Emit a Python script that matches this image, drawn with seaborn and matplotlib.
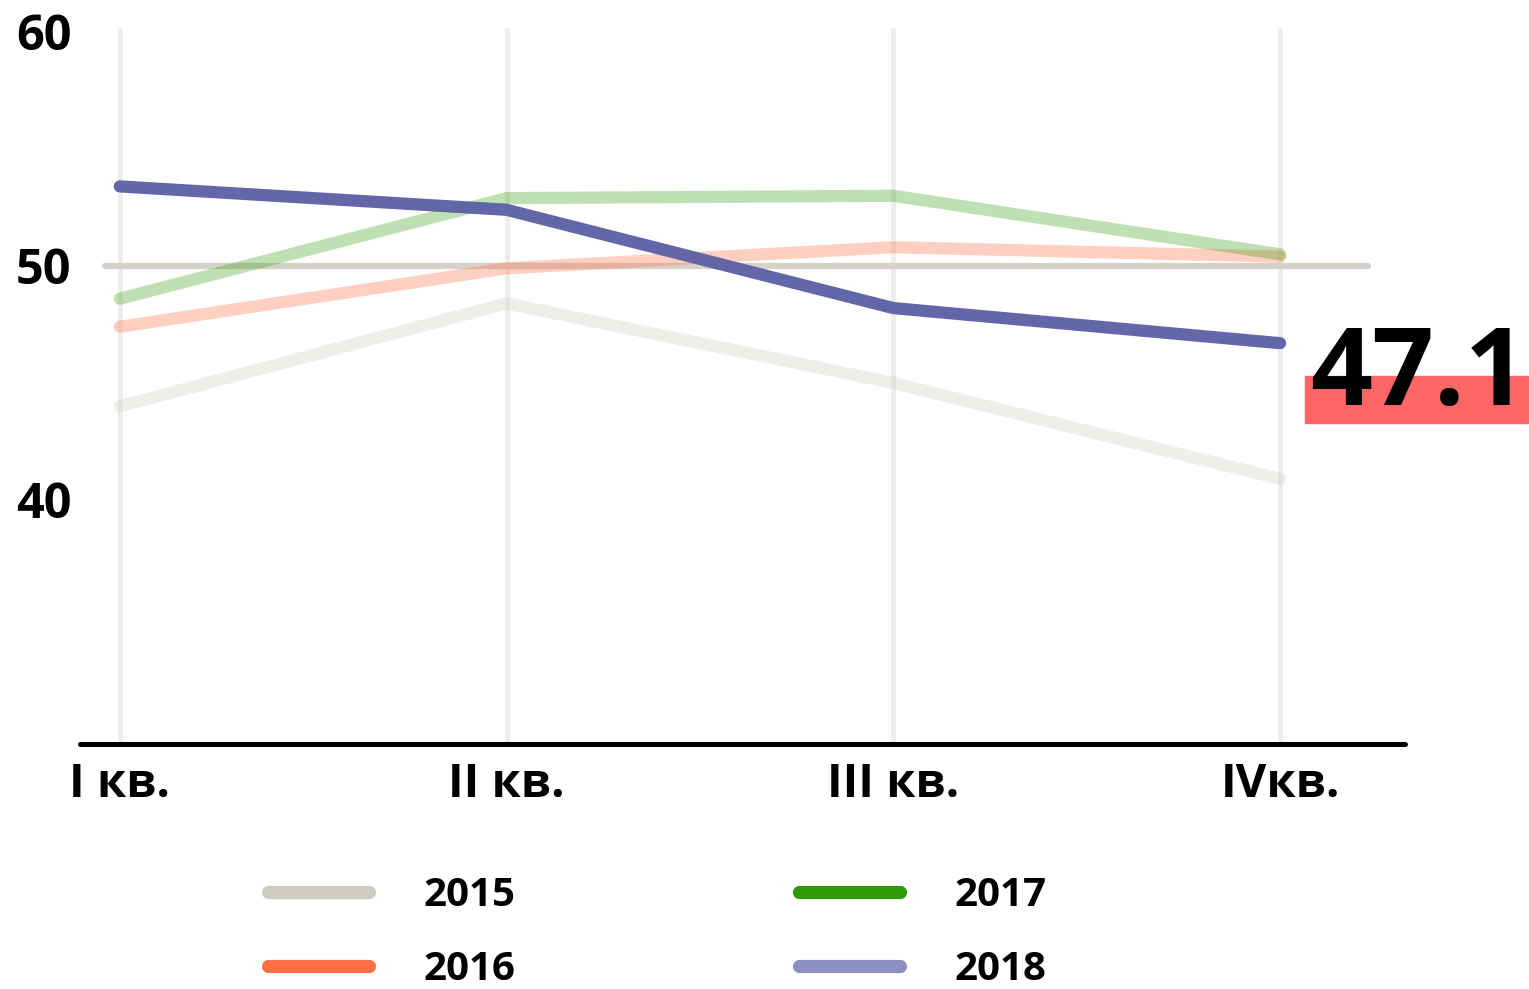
import numpy as np
import pandas as pd
import matplotlib
matplotlib.use('Agg')
import matplotlib.pyplot as plt
from matplotlib.lines import Line2D
from matplotlib.patches import Rectangle
import seaborn as sns

# data
quarters = ['I кв.', 'II кв.', 'III кв.', 'IVкв.']
years = ['2015', '2016', '2017', '2018']
v2015 = [44.0, 48.4, 45.0, 40.9]
v2016 = [47.4, 49.9, 50.8, 50.4]
v2017 = [48.6, 52.9, 53.0, 50.5]
v2018 = [53.4, 52.4, 48.2, 46.7]
last_label = '47.1'

legend_colors = ['#d0cbc0', '#ff7043', '#2e9a06', '#8e8fc0']
line_colors = ['#d0cbc0', '#ff7043', '#2e9a06', '#5b5fa4']
line_alphas = [0.32, 0.33, 0.30, 0.95]

df = pd.DataFrame({'q': list(range(4)) * 4,
                   'value': v2015 + v2016 + v2017 + v2018,
                   'year': np.repeat(years, 4)})

sns.set_style('white')
plt.rcParams['font.family'] = ['Open Sans', 'DejaVu Sans']
plt.rcParams['font.weight'] = 'bold'
plt.rcParams['text.color'] = 'black'
plt.rcParams['xtick.color'] = 'black'
plt.rcParams['ytick.color'] = 'black'

fig = plt.figure(figsize=(15.29, 9.89), dpi=100)
ax = fig.add_axes([80 / 1529, 1 - 744 / 989, 1325 / 1529, 716 / 989])

# reference line at 50
ax.axhline(50, xmin=0.019, xmax=0.972, color='#d6d2ca', lw=4.5,
           solid_capstyle='round', zorder=1)

for yr, c, a in zip(years, line_colors, line_alphas):
    sns.lineplot(data=df[df['year'] == yr], x='q', y='value', color=c,
                 alpha=a, lw=8.8, solid_capstyle='round', ax=ax, zorder=2)

ax.set_xlim(-0.103, 3.323)
ax.set_ylim(29.57, 60.17)
ax.set_xticks(range(4))
ax.set_xticklabels(quarters)
ax.set_yticks([40, 50, 60])
ax.set_xlabel('')
ax.set_ylabel('')
ax.tick_params(axis='x', length=0, pad=12, labelsize=34, labelcolor='black')
ax.tick_params(axis='y', length=0, pad=6, labelsize=35, labelcolor='black')
for lab in ax.get_xticklabels() + ax.get_yticklabels():
    lab.set_fontweight('bold')

ax.grid(axis='x', color='#efede9', lw=3.5)
ax.grid(axis='y', visible=False)
for s in ['top', 'left', 'right']:
    ax.spines[s].set_visible(False)
ax.spines['bottom'].set_color('black')
ax.spines['bottom'].set_linewidth(3.6)
ax.spines['bottom'].set_capstyle('round')

# highlighted last value
fig.patches.append(Rectangle((1305 / 1529, 1 - 423 / 989), 224 / 1529, 47 / 989,
                             transform=fig.transFigure, color='#ff6666', zorder=3))
fig.text(1310 / 1529, 1 - 405 / 989, last_label, fontsize=78, fontweight='bold',
         color='black', ha='left', va='baseline', zorder=4)

handles = [Line2D([0], [0], color=c, lw=9.5, solid_capstyle='round') for c in legend_colors]
leg = fig.legend(handles, years, loc='upper left', bbox_to_anchor=(268 / 1529, 1 - 876 / 989),
                 ncol=2, frameon=False, fontsize=29, handlelength=2.5, handletextpad=1.35,
                 columnspacing=7.05, labelspacing=0.88, borderpad=0, borderaxespad=0)
for t in leg.get_texts():
    t.set_fontweight('bold')
    t.set_color('black')

fig.savefig('out.png', dpi=100)
